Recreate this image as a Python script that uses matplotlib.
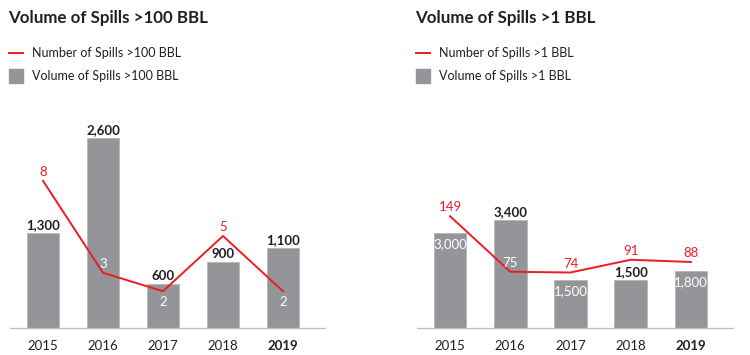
import numpy as np
import matplotlib
matplotlib.use("Agg")
import matplotlib.pyplot as plt

plt.rcParams['font.family'] = ['Lato', 'DejaVu Sans']

years = ["2015", "2016", "2017", "2018", "2019"]

# left panel: spills > 100 BBL
vol_100 = [1300, 2600, 600, 900, 1100]
num_100 = [8, 3, 2, 5, 2]
# right panel: spills > 1 BBL
vol_1 = [3000, 3400, 1500, 1500, 1800]
num_1 = [149, 75, 74, 91, 88]

# where the labels sit ('in' = white inside bar, 'up' = above)
vol_100_pos = ["up", "up", "up", "up", "up"]
num_100_pos = ["up", "up_w", "down_w", "up", "down_w"]
vol_1_pos = ["in", "up", "in", "up", "in"]
num_1_pos = ["up", "up_w", "up", "up", "up"]

GREY = "#939598"
RED = "#ed1c24"
W, H = 750, 355

fig = plt.figure(figsize=(W / 100, H / 100), dpi=100)


def px_axes(x0, x1, ytop, ybot):
    return fig.add_axes([x0 / W, (H - ybot) / H, (x1 - x0) / W, (ybot - ytop) / H])


def panel(x0, x1, vols, nums, vmax, nmax, vpos, npos, title, leg_num, leg_vol):
    ax = px_axes(x0, x1, 100, 328)
    x = np.arange(len(years))
    ax.bar(x, vols, width=0.54, color=GREY, edgecolor="#b4b6b9", linewidth=0.6, zorder=2)
    ax.set_xlim(-0.55, 4.7)
    ax.set_ylim(0, vmax)
    for s in ["top", "right", "left"]:
        ax.spines[s].set_visible(False)
    ax.spines["bottom"].set_color("#bcbec0")
    ax.spines["bottom"].set_linewidth(0.9)
    ax.set_yticks([])
    ax.set_xticks(x)
    ax.set_xticklabels(years, fontsize=9.5, color="#231f20")
    ax.tick_params(axis="x", length=0, pad=9)
    ax.get_xticklabels()[-1].set_fontweight("bold")
    for xi, v, p in zip(x, vols, vpos):
        if p == "up":
            ax.annotate(f"{v:,}", (xi, v), xytext=(0, 2), textcoords="offset pixels",
                        ha="center", va="bottom", fontsize=9.5, fontweight="bold",
                        color="#231f20", zorder=5)
        else:
            ax.annotate(f"{v:,}", (xi, v), xytext=(0, -11), textcoords="offset pixels",
                        ha="center", va="center", fontsize=9.5, color="white", zorder=5)

    ax2 = ax.twinx()
    ax2.set_ylim(0, nmax)
    ax2.set_axis_off()
    ax2.plot(x, nums, color=RED, lw=1.4, zorder=3)
    for xi, n, p in zip(x, nums, npos):
        col = "white" if p.endswith("_w") else RED
        dy = -11 if p.startswith("down") else 9
        ax2.annotate(str(n), (xi, n), xytext=(0, dy), textcoords="offset pixels",
                     ha="center", va="center", fontsize=9.5, color=col, zorder=5)

    fig.text((x0 - 2) / W, 1 - 18 / H, title, fontsize=12.2, fontweight="bold",
             color="#231f20", va="center", ha="left")
    lx = x0 - 1
    fig.add_artist(plt.Line2D([lx / W, (lx + 14) / W], [1 - 53 / H, 1 - 53 / H],
                              color=RED, lw=1.4))
    fig.add_artist(plt.Rectangle((lx / W, 1 - 83 / H), 14 / W, 14 / H,
                                 color=GREY, transform=fig.transFigure))
    fig.text((lx + 23) / W, 1 - 53 / H, leg_num, fontsize=9, color="#231f20", va="center")
    fig.text((lx + 23) / W, 1 - 76 / H, leg_vol, fontsize=9, color="#231f20", va="center")


panel(10, 325, vol_100, num_100, 228 / 0.0731, 228 / 18.4, vol_100_pos, num_100_pos,
      "Volume of Spills >100 BBL", "Number of Spills >100 BBL", "Volume of Spills >100 BBL")
panel(417, 733, vol_1, num_1, 228 / 0.0317, 228 / 0.75, vol_1_pos, num_1_pos,
      "Volume of Spills >1 BBL", "Number of Spills >1 BBL", "Volume of Spills >1 BBL")

fig.savefig("out.png", dpi=100)
